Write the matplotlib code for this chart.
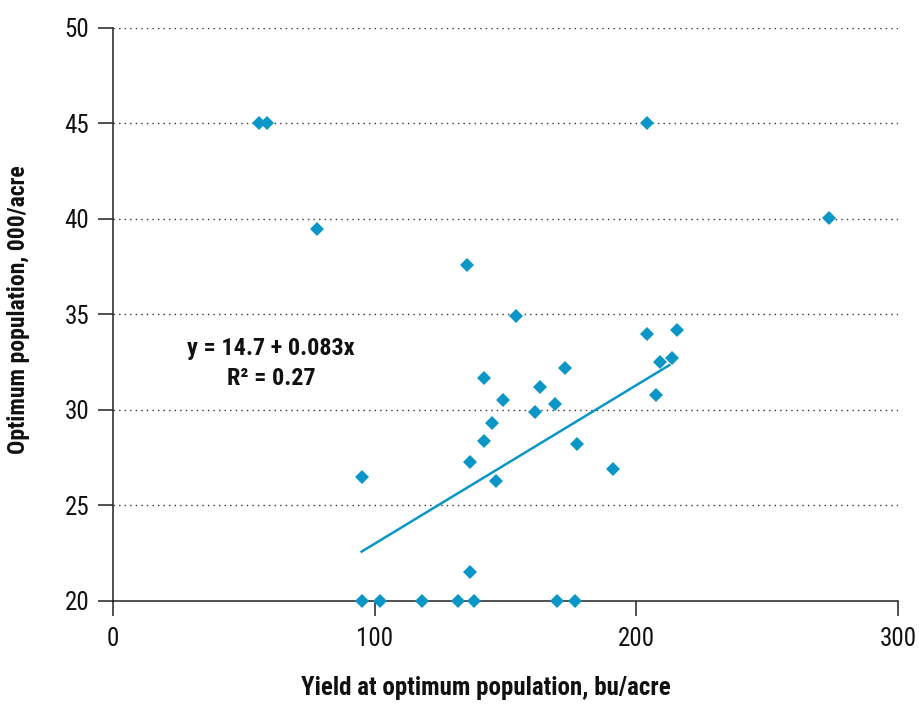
import matplotlib
matplotlib.use('Agg')
import matplotlib.pyplot as plt
import numpy as np

plt.rcParams['font.family'] = ['Roboto Condensed', 'DejaVu Sans']

# Yield (bu/acre) and optimum population (000/acre) per site
yield_bu = [55.7, 58.8, 77.9, 135.1, 154.2, 204.2, 273.7, 204.2, 215.6, 213.7,
            209.2, 207.6, 172.9, 163.0, 141.6, 149.2, 169.1, 161.1, 144.7, 141.6,
            177.5, 136.3, 191.2, 146.2, 95.0, 136.3,
            95.0, 101.9, 117.9, 131.7, 137.8, 169.5, 176.7]
opt_pop = [45.0, 45.0, 39.5, 37.6, 34.9, 45.0, 40.05, 34.0, 34.2, 32.7,
           32.5, 30.8, 32.2, 31.2, 31.7, 30.5, 30.3, 29.9, 29.3, 28.4,
           28.2, 27.3, 26.9, 26.3, 26.5, 21.5,
           20.0, 20.0, 20.0, 20.0, 20.0, 20.0, 20.0]

# Fitted line y = 14.7 + 0.083x over the fitted range
intercept, slope = 14.7, 0.083
fit_range = [95.0, 212.6]

blue = '#0a96c6'

fig = plt.figure(figsize=(9.19, 7.04), dpi=100)
ax = fig.add_axes([113 / 919, 1 - 601 / 704, 785 / 919, 573 / 704])

ax.set_xlim(0, 300)
ax.set_ylim(20, 50)
ax.set_xticks([0, 100, 200, 300])
ax.set_yticks([20, 25, 30, 35, 40, 45, 50])

for y in [25, 30, 35, 40, 45, 50]:
    ax.axhline(y, color='#333333', linewidth=1.0, linestyle=(0, (1, 3)), zorder=1)

xf = np.array(fit_range)
ax.plot(xf, intercept + slope * xf, color=blue, linewidth=1.8, zorder=2)

ax.plot(yield_bu, opt_pop, linestyle='none', marker='D', markersize=7.5,
        color=blue, markeredgewidth=0, zorder=3, clip_on=False)

for side in ['top', 'right']:
    ax.spines[side].set_visible(False)
for side in ['left', 'bottom']:
    ax.spines[side].set_linewidth(1.1)
    ax.spines[side].set_color('#222222')

ax.tick_params(axis='both', direction='out', length=11, width=1.1, color='#222222',
               labelsize=18, labelcolor='#111111')
ax.tick_params(axis='x', pad=8)
ax.tick_params(axis='y', pad=6)

ax.text(60.4, 33.2, 'y = 14.7 + 0.083x', fontsize=17.5, fontweight='bold',
        ha='center', va='center', color='#111111')
ax.text(60.4, 31.65, 'R² = 0.27', fontsize=17.5, fontweight='bold',
        ha='center', va='center', color='#111111')

fig.text(486 / 919, 1 - 688 / 704, 'Yield at optimum population, bu/acre',
         fontsize=18, fontweight='bold', ha='center', va='center', color='#111111')
fig.text(19 / 919, 1 - 310 / 704, 'Optimum population, 000/acre',
         fontsize=17, fontweight='bold', ha='center', va='center', rotation=90,
         color='#111111')

fig.savefig('out.png', dpi=100, facecolor='white')
